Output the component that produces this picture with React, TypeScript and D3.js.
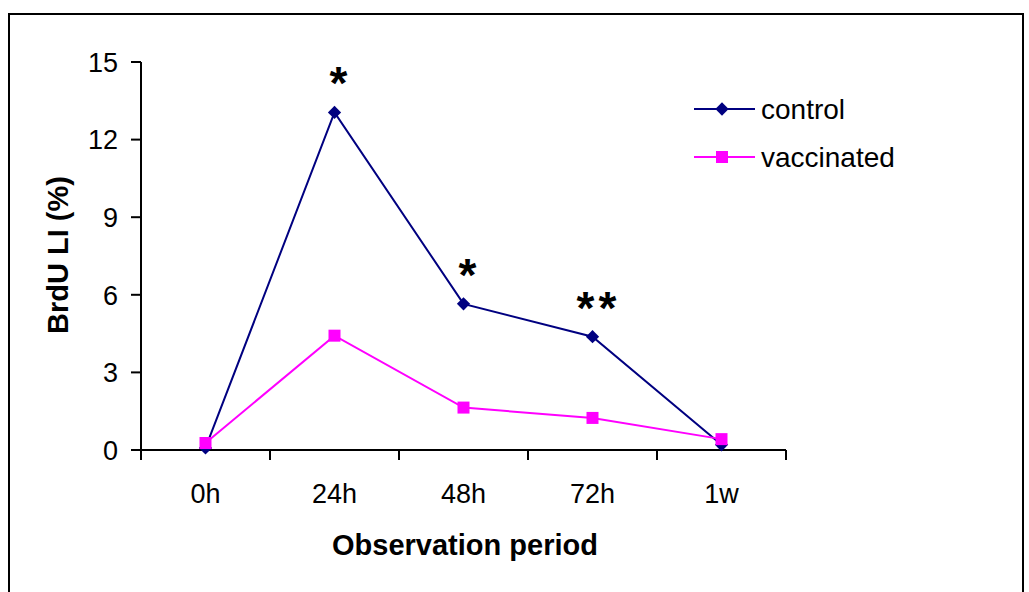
import { useEffect, useRef } from 'react';
import * as d3 from 'd3';

const periods = ['0h', '24h', '48h', '72h', '1w'];
const control = [0.08, 13.05, 5.65, 4.38, 0.2];
const vaccinated = [0.27, 4.42, 1.64, 1.24, 0.42];
const stars = ['', '*', '*', '**', ''];
const yTicks = [0, 3, 6, 9, 12, 15];

const NAVY = '#000080';
const MAGENTA = '#FF00FF';
const FONT = 'Liberation Sans, Arial, sans-serif';

const App = () => {
  const ref = useRef<SVGSVGElement>(null);

  useEffect(() => {
    const width = 1029;
    const height = 592;
    const svg = d3.select(ref.current).attr('width', width).attr('height', height);
    svg.selectAll('*').remove();

    // outer frame
    svg.append('rect')
      .attr('x', 9).attr('y', 14)
      .attr('width', 1014).attr('height', 600)
      .attr('fill', 'white').attr('stroke', 'black').attr('stroke-width', 2);

    const left = 141, right = 786, top = 62, bottom = 450;

    const x = d3.scaleBand().domain(periods).range([left, right]);
    const y = d3.scaleLinear().domain([0, 15]).range([bottom, top]);

    const g = svg.append('g').attr('font-family', FONT);

    // y axis
    g.append('line')
      .attr('x1', left).attr('x2', left).attr('y1', top).attr('y2', bottom)
      .attr('stroke', 'black').attr('stroke-width', 2);
    g.selectAll('.ytick').data(yTicks).join('line')
      .attr('x1', left - 10).attr('x2', left)
      .attr('y1', d => y(d)).attr('y2', d => y(d))
      .attr('stroke', 'black').attr('stroke-width', 2);
    g.selectAll('.ylabel').data(yTicks).join('text')
      .text(d => d)
      .attr('x', left - 23).attr('y', d => y(d))
      .attr('dy', '0.36em')
      .attr('text-anchor', 'end')
      .attr('font-size', 27);

    // x axis
    g.append('line')
      .attr('x1', left).attr('x2', right).attr('y1', bottom).attr('y2', bottom)
      .attr('stroke', 'black').attr('stroke-width', 2);
    const xTicks = periods.map(p => x(p) as number).concat([right]);
    g.selectAll('.xtick').data(xTicks).join('line')
      .attr('x1', d => d).attr('x2', d => d)
      .attr('y1', bottom).attr('y2', bottom + 10)
      .attr('stroke', 'black').attr('stroke-width', 2);
    g.selectAll('.xlabel').data(periods).join('text')
      .text(d => d)
      .attr('x', d => (x(d) as number) + x.bandwidth() / 2)
      .attr('y', 503)
      .attr('text-anchor', 'middle')
      .attr('font-size', 27);

    // axis titles
    g.append('text')
      .text('Observation period')
      .attr('x', 465).attr('y', 555)
      .attr('text-anchor', 'middle')
      .attr('font-size', 29).attr('font-weight', 'bold');
    g.append('text')
      .text('BrdU LI (%)')
      .attr('transform', `translate(68,255) rotate(-90)`)
      .attr('text-anchor', 'middle')
      .attr('font-size', 29).attr('font-weight', 'bold');

    const cx = (i: number) => (x(periods[i]) as number) + x.bandwidth() / 2;
    const line = d3.line<number>().x((d, i) => cx(i)).y(d => y(d));

    // series
    g.append('path').datum(control).attr('d', line)
      .attr('fill', 'none').attr('stroke', NAVY).attr('stroke-width', 2);
    g.append('path').datum(vaccinated).attr('d', line)
      .attr('fill', 'none').attr('stroke', MAGENTA).attr('stroke-width', 2);

    const diamond = d3.symbol().type(d3.symbolDiamond2).size(112);
    const square = d3.symbol().type(d3.symbolSquare).size(144);

    g.selectAll('.cpt').data(control).join('path')
      .attr('d', diamond)
      .attr('transform', (d, i) => `translate(${cx(i)},${y(d)})`)
      .attr('fill', NAVY);
    g.selectAll('.vpt').data(vaccinated).join('path')
      .attr('d', square)
      .attr('transform', (d, i) => `translate(${cx(i)},${y(d)})`)
      .attr('fill', MAGENTA);

    // significance stars
    g.selectAll('.star').data(stars).join('text')
      .text(d => d)
      .attr('x', (d, i) => cx(i) + 6)
      .attr('y', (d, i) => y(control[i]) - 13)
      .attr('text-anchor', 'middle')
      .attr('letter-spacing', 4)
      .attr('font-size', 46).attr('font-weight', 'bold');

    // legend
    const legend = [
      { name: 'control', color: NAVY, sym: 'diamond', y: 109 },
      { name: 'vaccinated', color: MAGENTA, sym: 'square', y: 157 },
    ];
    const lg = g.selectAll('.legend').data(legend).join('g')
      .attr('transform', d => `translate(694,${d.y})`);
    lg.append('line')
      .attr('x1', 0).attr('x2', 61).attr('y1', 0).attr('y2', 0)
      .attr('stroke', d => d.color).attr('stroke-width', 2);
    lg.append('path')
      .attr('d', d => (d.sym === 'diamond' ? diamond() : square()))
      .attr('transform', 'translate(28,0)')
      .attr('fill', d => d.color);
    lg.append('text')
      .text(d => d.name)
      .attr('x', 67).attr('dy', '0.36em')
      .attr('font-size', 28);
  }, []);

  return <svg ref={ref} style={{ position: 'absolute', left: 0, top: 0 }}></svg>;
};

export default App;
